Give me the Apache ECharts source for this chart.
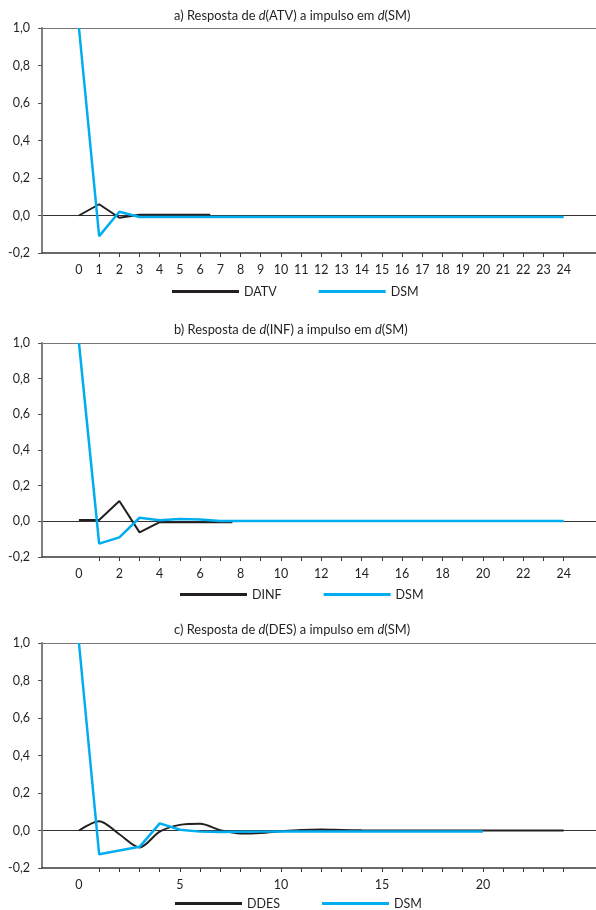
<!DOCTYPE html>
<html>
<head>
<meta charset="utf-8">
<script src="https://cdn.jsdelivr.net/npm/echarts@6/dist/echarts.min.js"></script>
<style>
  html, body { margin: 0; padding: 0; background: #fff; }
  #chart { width: 596px; height: 910px; }
</style>
</head>
<body>
<div id="chart"></div>
<script>
// panel a) d(ATV)
const xAtv = [0, 1, 2, 3, 6.5];
const yAtv = [0, 0.06, -0.012, 0.004, 0.004];
const xSmA = [0, 1, 2, 3, 4, 5, 6, 7, 8, 9, 10, 11, 12, 13, 14, 15, 16, 17, 18, 19, 20, 21, 22, 23, 24];
const ySmA = [1.0, -0.11, 0.02, -0.008, -0.008, -0.008, -0.008, -0.008, -0.008, -0.008, -0.008, -0.008, -0.008,
  -0.008, -0.008, -0.008, -0.008, -0.008, -0.008, -0.008, -0.008, -0.008, -0.008, -0.008, -0.008];

// panel b) d(INF)
const xInf = [0, 1, 2, 3, 4, 5, 6, 7, 7.6];
const yInf = [0.008, 0.008, 0.114, -0.062, -0.005, -0.005, -0.005, -0.005, -0.005];
const xSmB = [0, 1, 2, 3, 4, 5, 6, 7, 8, 9, 10, 11, 12, 13, 14, 15, 16, 17, 18, 19, 20, 21, 22, 23, 24];
const ySmB = [1.0, -0.125, -0.09, 0.02, 0.006, 0.013, 0.01, 0.002, 0.002, 0.002, 0.002, 0.002, 0.002,
  0.002, 0.002, 0.002, 0.002, 0.002, 0.002, 0.002, 0.002, 0.002, 0.002, 0.002, 0.002];

// panel c) d(DES)
const xDes = [0, 1, 2, 3, 4, 5, 6, 7, 8, 9, 10, 11, 12, 13, 14, 15, 16, 17, 18, 19, 20, 21, 22, 23, 24];
const yDes = [0, 0.05, -0.02, -0.09, -0.006, 0.03, 0.036, 0.002, -0.016, -0.013, -0.004, 0.003, 0.005,
  0.003, 0.001, 0, 0, 0, 0, 0, 0, 0, 0, 0, 0];
const xSmC = [0, 1, 2, 3, 4, 5, 6, 7, 8, 9, 10, 11, 12, 13, 14, 15, 16, 17, 18, 19, 20];
const ySmC = [1.0, -0.127, -0.107, -0.087, 0.038, 0.004, -0.006, -0.008, -0.007, -0.006, -0.005, -0.005,
  -0.005, -0.005, -0.005, -0.005, -0.005, -0.005, -0.005, -0.005, -0.005];

const titles = [
  'a) Resposta de {i|d}(ATV) a impulso em {i|d}(SM)',
  'b) Resposta de {i|d}(INF) a impulso em {i|d}(SM)',
  'c) Resposta de {i|d}(DES) a impulso em {i|d}(SM)'
];
const ticksX = [1, 2, 3, 4, 5, 6, 7, 8, 9, 10, 11, 12, 13, 14, 15, 16, 17, 18, 19, 20, 21, 22, 23, 24];
const labelsA = [0, 1, 2, 3, 4, 5, 6, 7, 8, 9, 10, 11, 12, 13, 14, 15, 16, 17, 18, 19, 20, 21, 22, 23, 24];
const labelsB = [0, 2, 4, 6, 8, 10, 12, 14, 16, 18, 20, 22, 24];
const labelsC = [0, 5, 10, 15, 20];

const BLACK = '#231f20';
const CYAN = '#00aeef';
const FONT = 'Lato';
const FS = 12.5;

const chart = echarts.init(document.getElementById('chart'));

const grids = [
  { top: 28, height: 225 },
  { top: 343, height: 214 },
  { top: 643, height: 225 }
];
const titleTops = [9, 323, 623];
const legendTops = [285, 588, 897];
const legendLefts = [172, 180, 175];
const labelSets = [labelsA, labelsB, labelsC];

function zip(xs, ys) {
  return xs.map((x, i) => [x, ys[i]]);
}

const option = {
  animation: false,
  textStyle: { fontFamily: FONT },
  title: titles.map((t, i) => ({
    text: t,
    left: 174,
    top: titleTops[i],
    padding: 0,
    textStyle: {
      fontFamily: FONT, fontSize: 12.9, fontWeight: 'normal', color: BLACK,
      rich: { i: { fontFamily: FONT, fontSize: 12.9, fontStyle: 'italic', color: BLACK } }
    }
  })),
  legend: [['DATV', 'DSM'], ['DINF', 'DSM'], ['DDES', 'DSM']].map((d, i) => ({
    data: d,
    left: legendLefts[i],
    top: legendTops[i],
    padding: 0,
    icon: 'rect',
    itemWidth: 67,
    itemHeight: 3,
    itemGap: 42,
    textStyle: { fontFamily: FONT, fontSize: FS, color: BLACK }
  })),
  grid: grids.map(g => ({ left: 42, right: 0, top: g.top, height: g.height })),
  xAxis: grids.map((g, i) => ({
    type: 'value',
    gridIndex: i,
    min: -1.83,
    max: 25.6,
    axisLine: { show: true, onZero: false, lineStyle: { color: '#3a3a3a', width: 1.5 } },
    axisTick: { show: true, customValues: ticksX, length: 4, lineStyle: { color: '#3a3a3a' } },
    axisLabel: { customValues: labelSets[i], margin: 10, fontSize: FS, color: BLACK, fontFamily: FONT },
    splitLine: { show: false }
  })),
  yAxis: grids.map((g, i) => ({
    type: 'value',
    gridIndex: i,
    min: -0.2,
    max: 1.0,
    interval: 0.2,
    axisLine: { show: true, onZero: false, lineStyle: { color: '#808080', width: 2 } },
    axisTick: { show: true, length: 4, lineStyle: { color: '#555' } },
    axisLabel: {
      margin: 12, fontSize: FS, color: BLACK, fontFamily: FONT,
      formatter: v => v.toFixed(1).replace('.', ',')
    },
    splitLine: {
      show: true,
      lineStyle: {
        width: 1,
        color: ['rgba(0,0,0,0)', '#333', 'rgba(0,0,0,0)', 'rgba(0,0,0,0)', 'rgba(0,0,0,0)', 'rgba(0,0,0,0)', '#777']
      }
    }
  })),
  series: [
    { name: 'DATV', data: zip(xAtv, yAtv), xAxisIndex: 0, yAxisIndex: 0, color: BLACK, lineWidth: 2 },
    { name: 'DSM', data: zip(xSmA, ySmA), xAxisIndex: 0, yAxisIndex: 0, color: CYAN, lineWidth: 2.5 },
    { name: 'DINF', data: zip(xInf, yInf), xAxisIndex: 1, yAxisIndex: 1, color: BLACK, lineWidth: 2 },
    { name: 'DSM', data: zip(xSmB, ySmB), xAxisIndex: 1, yAxisIndex: 1, color: CYAN, lineWidth: 2.5 },
    { name: 'DDES', data: zip(xDes, yDes), xAxisIndex: 2, yAxisIndex: 2, color: BLACK, lineWidth: 2, smooth: 0.3 },
    { name: 'DSM', data: zip(xSmC, ySmC), xAxisIndex: 2, yAxisIndex: 2, color: CYAN, lineWidth: 2.5 }
  ].map(s => ({
    type: 'line',
    name: s.name,
    data: s.data,
    xAxisIndex: s.xAxisIndex,
    yAxisIndex: s.yAxisIndex,
    smooth: s.smooth || false,
    showSymbol: false,
    symbol: 'none',
    itemStyle: { color: s.color },
    lineStyle: { color: s.color, width: s.lineWidth }
  }))
};

chart.setOption(option);
</script>
</body>
</html>
